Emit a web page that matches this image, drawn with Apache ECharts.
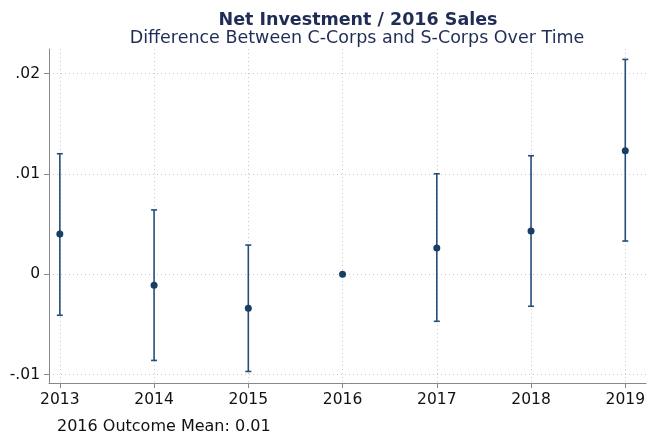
<!DOCTYPE html>
<html>
<head>
    <meta charset="utf-8">
    <title>Net Investment / 2016 Sales</title>
    <script src="https://cdn.jsdelivr.net/npm/echarts@6/dist/echarts.min.js"></script>
</head>
<body style="margin:0">
    <div id="main" style="width:648px;height:434px;"></div>
    <script type="text/javascript">
        // values
        var years = [2013, 2014, 2015, 2016, 2017, 2018, 2019];
        var estimates = [0.0040, -0.0011, -0.0034, 0.0, 0.0026, 0.0043, 0.0123];
        var upper = [0.0120, 0.0064, 0.0029, null, 0.0100, 0.0118, 0.0214];
        var lower = [-0.0041, -0.0086, -0.0097, null, -0.0047, -0.0032, 0.0033];
        var yTicks = [-0.01, 0, 0.01, 0.02];
        var yTickLabels = ['-.01', '0', '.01', '.02'];

        var font = '"DejaVu Sans", Verdana, sans-serif';
        var navy = '#173f66';
        var barColor = '#234f7a';

        var ciData = [];
        for (var i = 0; i < years.length; i++) {
            if (upper[i] !== null) ciData.push([years[i], lower[i], upper[i]]);
        }

        var myChart = echarts.init(document.getElementById('main'));
        var option = {
            animation: false,
            backgroundColor: '#fff',
            title: [{
                text: 'Net Investment / 2016 Sales',
                left: 353, top: 6, textAlign: 'center',
                textStyle: { fontFamily: font, fontSize: 17.5, fontWeight: 'bold', color: '#1f2d56' }
            }, {
                text: 'Difference Between C-Corps and S-Corps Over Time',
                left: 352, top: 24, textAlign: 'center',
                textStyle: { fontFamily: font, fontSize: 17.5, fontWeight: 'normal', color: '#1f2d56' }
            }, {
                text: '2016 Outcome Mean: 0.01',
                left: 52, top: 414,
                textStyle: { fontFamily: font, fontSize: 16, fontWeight: 'normal', color: '#111' }
            }],
            grid: { left: 49, right: 0, top: 49, bottom: 51, containLabel: false },
            xAxis: {
                type: 'value',
                min: 2012.885, max: 2019.22,
                axisLine: { show: true, onZero: false, lineStyle: { color: '#888', width: 1 } },
                axisTick: { show: true, length: 5, customValues: years, lineStyle: { color: '#888' } },
                axisLabel: {
                    customValues: years, margin: 9,
                    fontFamily: font, fontSize: 15.5, color: '#111',
                    formatter: function (v) { return String(Math.round(v)); }
                },
                splitLine: { show: true, lineStyle: { color: '#c8c8c8', type: [1, 3] } }
            },
            yAxis: {
                type: 'value',
                min: -0.01085, max: 0.02244,
                axisLine: { show: true, lineStyle: { color: '#888', width: 1 } },
                axisTick: { show: true, length: 5, customValues: yTicks, lineStyle: { color: '#888' } },
                axisLabel: {
                    customValues: yTicks, margin: 9,
                    fontFamily: font, fontSize: 15.5, color: '#111',
                    formatter: function (v) {
                        var k = yTicks.findIndex(function (t) { return Math.abs(t - v) < 1e-9; });
                        return k >= 0 ? yTickLabels[k] : '';
                    }
                },
                splitLine: { show: true, lineStyle: { color: '#c8c8c8', type: [1, 3] } }
            },
            series: [{
                type: 'custom',
                data: ciData,
                renderItem: function (params, api) {
                    var x = api.value(0);
                    var lo = api.coord([x, api.value(1)]);
                    var hi = api.coord([x, api.value(2)]);
                    var w = 3;
                    var style = { stroke: barColor, lineWidth: 1.6 };
                    return {
                        type: 'group',
                        children: [
                            { type: 'line', shape: { x1: lo[0], y1: lo[1], x2: hi[0], y2: hi[1] }, style: style },
                            { type: 'line', shape: { x1: lo[0] - w, y1: lo[1], x2: lo[0] + w, y2: lo[1] }, style: style },
                            { type: 'line', shape: { x1: hi[0] - w, y1: hi[1], x2: hi[0] + w, y2: hi[1] }, style: style }
                        ]
                    };
                },
                z: 2
            }, {
                type: 'scatter',
                data: years.map(function (y, i) { return [y, estimates[i]]; }),
                symbol: 'circle',
                symbolSize: 7,
                itemStyle: { color: navy, opacity: 1 },
                z: 3
            }]
        };
        myChart.setOption(option);
    </script>
</body>
</html>
